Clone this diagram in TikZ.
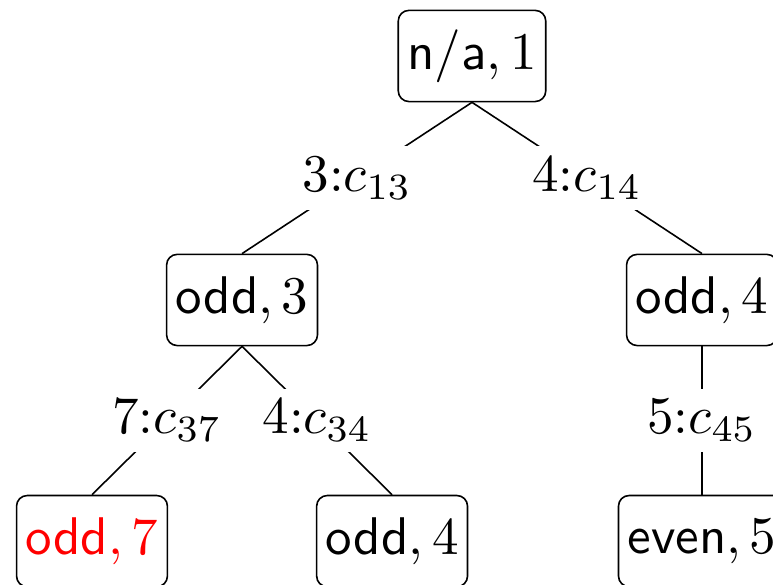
\documentclass[tikz,border=0pt]{standalone}
\usepackage{amsmath,amssymb}
\usepackage{xcolor}
\usepackage{tikz}
\tikzstyle{state} = [rectangle, draw, rounded corners=2pt,
  inner xsep=1.7pt, minimum height=17.2pt, line width=0.3pt]
\tikzstyle{choice} = [fill=white, inner sep=2pt]

\begin{document}
\begin{tikzpicture}[line width=0.3pt]
  \clip (0,0) rectangle (5.126,-3.873);
  \node[state] (root) at (3.130, -0.371) {$\textsf{n/a}, 1$};
  \node[state] (odd3) at (1.605, -1.989) {$\textsf{odd}, 3$};
  \node[state] (odd4r) at (4.655, -1.989) {$\textsf{odd}, 4$};
  \node[state] (odd7) at (0.610, -3.588) {\color{red}$\textsf{odd}, 7$};
  \node[state] (odd4) at (2.600, -3.588) {$\textsf{odd}, 4$};
  \node[state] (even5) at (4.655, -3.588) {$\textsf{even}, 5$};

  \path[draw] (root.south) -- node[choice] {$3{:}c_{13}$} (odd3.north);
  \path[draw] (root.south) -- node[choice] {$4{:}c_{14}$} (odd4r.north);
  \path[draw] (odd3.south) -- node[choice] {$7{:}c_{37}$} (odd7.north);
  \path[draw] (odd3.south) -- node[choice] {$4{:}c_{34}$} (odd4.north);
  \path[draw] (odd4r.south) -- node[choice] {$5{:}c_{45}$} (even5.north);
\end{tikzpicture}
\end{document}
